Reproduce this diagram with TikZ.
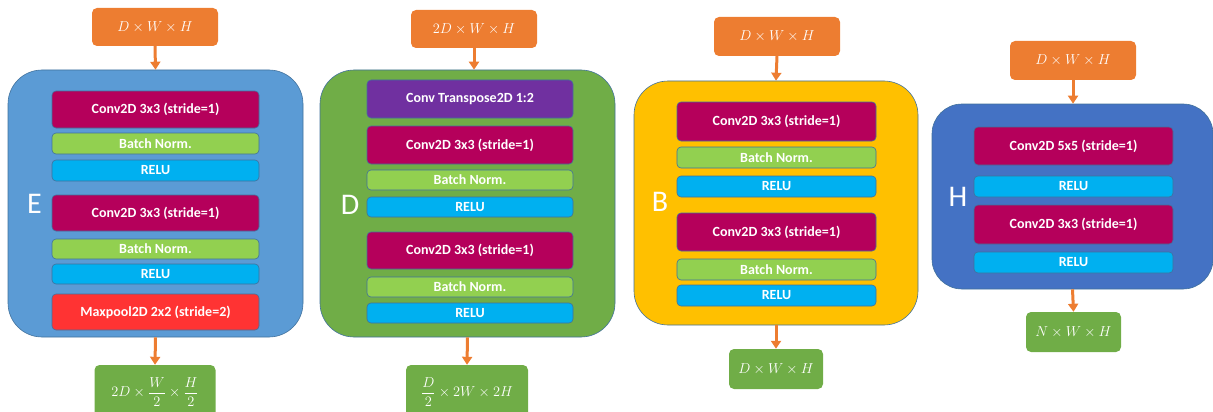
\documentclass[tikz,border=0pt]{standalone}
\usepackage{amsmath}
\usepackage{fontspec}
\setmainfont{Carlito}
\usetikzlibrary{arrows.meta}

\definecolor{inorange}{HTML}{ED7D31}
\definecolor{outgreen}{HTML}{70AD47}
\definecolor{encblue}{HTML}{5B9BD5}
\definecolor{bneckyellow}{HTML}{FFC000}
\definecolor{headblue}{HTML}{4472C4}
\definecolor{convberry}{HTML}{B5005B}
\definecolor{normgreen}{HTML}{92D050}
\definecolor{relucyan}{HTML}{00B0F0}
\definecolor{poolred}{HTML}{FF3333}
\definecolor{tconvpurple}{HTML}{7030A0}
\definecolor{edgeblue}{HTML}{41719C}

\tikzset{
	shape box/.style={draw=edgeblue, line width=0.6pt, text=white, inner sep=0pt},
	container/.style={shape box, rounded corners=34pt},
	layer/.style={shape box, rounded corners=4pt, font=\fontsize{14}{16}\selectfont\bfseries},
	conv/.style={layer, fill=convberry},
	bnorm/.style={layer, fill=normgreen},
	relu/.style={layer, fill=relucyan},
	pool/.style={layer, fill=poolred},
	tconv/.style={layer, fill=tconvpurple},
	tensor/.style={rounded corners=5pt, text=white, inner sep=0pt, minimum width=126pt, minimum height=38pt, font=\fontsize{14}{16}\selectfont},
	intensor/.style={tensor, fill=inorange},
	outtensor/.style={tensor, fill=outgreen},
	blockname/.style={text=white, font=\fontsize{30}{32}\selectfont},
	flow/.style={draw=inorange, line width=3pt, -{Triangle[width=10pt,length=8pt]}}
}

\begin{document}
\begin{tikzpicture}[x=1pt, y=-1pt]
			\useasboundingbox (0,0) rectangle (1213,412);
			\clip (0,0) rectangle (1213,412);
			% encoder block E
			\node[intensor] (inE) at (155,27) {$D\times W\times H$};
			\node[container, fill=encblue, minimum width=295pt, minimum height=267pt] (contE) at (155.5,203.5) {};
			\node[blockname] (labE) at (34.5,204) {E};
			\node[conv, minimum width=207pt, minimum height=37pt] (convE1) at (155.5,109.5) {Conv2D 3x3 (stride=1)};
			\node[bnorm, minimum width=207pt, minimum height=21pt] (bnE1) at (155.5,143.5) {Batch Norm.};
			\node[relu, minimum width=207pt, minimum height=21pt] (reluE1) at (155.5,170.5) {RELU};
			\node[conv, minimum width=207pt, minimum height=36pt] (convE2) at (155.5,213) {Conv2D 3x3 (stride=1)};
			\node[bnorm, minimum width=207pt, minimum height=20pt] (bnE2) at (155.5,249) {Batch Norm.};
			\node[relu, minimum width=207pt, minimum height=20pt] (reluE2) at (155.5,274) {RELU};
			\node[pool, minimum width=207pt, minimum height=36pt] (poolE) at (155.5,312) {Maxpool2D 2x2 (stride=2)};
			\node[outtensor, minimum width=121pt, minimum height=54pt] (outE) at (155,392) {$2D\times\dfrac{W}{2}\times\dfrac{H}{2}$};
			\draw[flow] (inE.south) -- (contE.north);
			\draw[flow] (contE.south) -- (outE.north);
			% decoder block D
			\node[intensor] (inD) at (474,29) {$2D\times W\times H$};
			\node[container, fill=outgreen, minimum width=295pt, minimum height=267pt] (contD) at (467.5,203.5) {};
			\node[blockname] (labD) at (350,205) {D};
			\node[tconv, minimum width=206pt, minimum height=38pt] (tconvD) at (470,99) {Conv Transpose2D 1:2};
			\node[conv, minimum width=206pt, minimum height=38pt] (convD1) at (470,145) {Conv2D 3x3 (stride=1)};
			\node[bnorm, minimum width=206pt, minimum height=20pt] (bnD1) at (470,180) {Batch Norm.};
			\node[relu, minimum width=206pt, minimum height=20pt] (reluD1) at (470,207) {RELU};
			\node[conv, minimum width=206pt, minimum height=37pt] (convD2) at (470,250.5) {Conv2D 3x3 (stride=1)};
			\node[bnorm, minimum width=206pt, minimum height=20pt] (bnD2) at (470,287) {Batch Norm.};
			\node[relu, minimum width=206pt, minimum height=20pt] (reluD2) at (470,313) {RELU};
			\node[outtensor, minimum width=122pt, minimum height=54pt] (outD) at (467,392) {$\dfrac{D}{2}\times 2W\times 2H$};
			\draw[flow] (inD.south) -- (inD.south |- contD.north);
			\draw[flow] (contD.south) -- (outD.north);
			% bottleneck block B
			\node[intensor, minimum height=39pt] (inB) at (777,36.5) {$D\times W\times H$};
			\node[container, fill=bneckyellow, minimum width=284pt, minimum height=244pt] (contB) at (776,203) {};
			\node[blockname] (labB) at (660,202) {B};
			\node[conv, minimum width=199pt, minimum height=39pt] (convB1) at (776.5,121.5) {Conv2D 3x3 (stride=1)};
			\node[bnorm, minimum width=199pt, minimum height=21pt] (bnB1) at (776.5,157.5) {Batch Norm.};
			\node[relu, minimum width=199pt, minimum height=21pt] (reluB1) at (776.5,186.5) {RELU};
			\node[conv, minimum width=199pt, minimum height=38pt] (convB2) at (776.5,232) {Conv2D 3x3 (stride=1)};
			\node[bnorm, minimum width=199pt, minimum height=21pt] (bnB2) at (776.5,269.5) {Batch Norm.};
			\node[relu, minimum width=199pt, minimum height=21pt] (reluB2) at (776.5,295.5) {RELU};
			\node[outtensor, minimum width=94pt, minimum height=40pt] (outB) at (776,369) {$D\times W\times H$};
			\draw[flow] (inB.south) -- (contB.north);
			\draw[flow] (contB.south) -- (outB.north);
			% head block H
			\node[intensor, minimum height=39pt] (inH) at (1073,60.5) {$D\times W\times H$};
			\node[container, rounded corners=30pt, fill=headblue, minimum width=281pt, minimum height=185pt] (contH) at (1072.5,196.5) {};
			\node[blockname] (labH) at (958,197) {H};
			\node[conv, minimum width=199pt, minimum height=38pt] (convH1) at (1073.5,146) {Conv2D 5x5 (stride=1)};
			\node[relu, minimum width=199pt, minimum height=21pt] (reluH1) at (1073.5,186.5) {RELU};
			\node[conv, minimum width=199pt, minimum height=39pt] (convH2) at (1073.5,224.5) {Conv2D 3x3 (stride=1)};
			\node[relu, minimum width=199pt, minimum height=21pt] (reluH2) at (1073.5,262.5) {RELU};
			\node[outtensor, minimum width=95pt, minimum height=40pt] (outH) at (1073.5,332) {$N\times W\times H$};
			\draw[flow] (inH.south) -- (inH.south |- contH.north);
			\draw[flow] (contH.south) -- (outH.north);
\end{tikzpicture}
\end{document}
